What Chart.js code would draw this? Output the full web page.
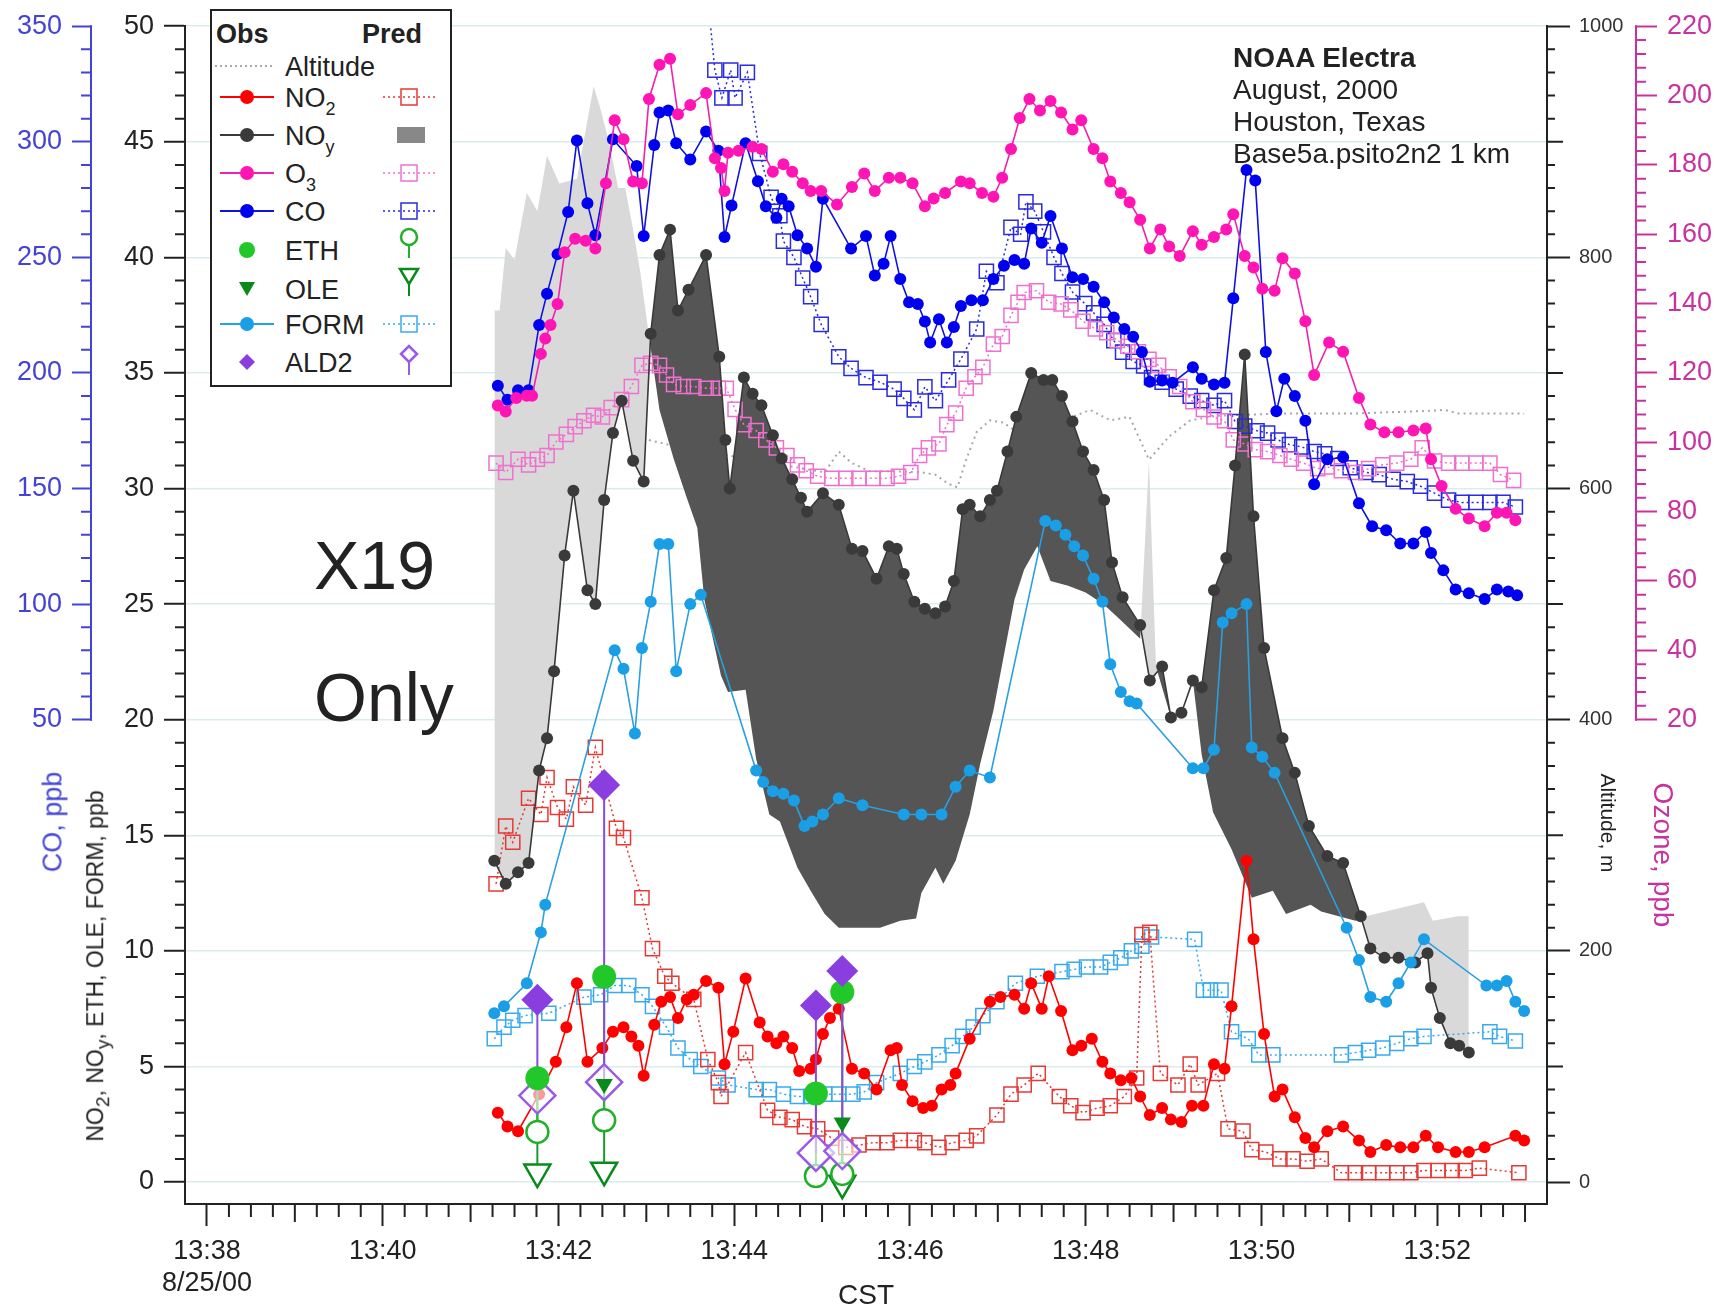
<!DOCTYPE html>
<html>
<head>
<meta charset="utf-8">
<title>NOAA Electra - X19 Only</title>
<script src="https://cdn.jsdelivr.net/npm/chart.js@4.4.1/dist/chart.umd.min.js"></script>
<style>
  body { margin: 0; background: #fff; overflow: hidden; }
  #wrap { position: relative; width: 1721px; height: 1313px; font-family: 'Liberation Sans', Arial, Helvetica, sans-serif; color: #222; }
  #wrap canvas { position: absolute; left: 0; top: 0; }
  .txt { position: absolute; white-space: nowrap; }
  .rotL { transform: translate(-50%, -50%) rotate(-90deg); }
  .rotR { transform: translate(-50%, -50%) rotate(90deg); }
  #legend { position: absolute; left: 210px; top: 9px; }
</style>
</head>
<body>
<div id="wrap">
  <canvas id="flightChart" width="1721" height="1313"></canvas>

  <svg id="legend" width="243" height="379" font-family="Liberation Sans, Arial, sans-serif" font-size="27" fill="#222">
    <rect x="1" y="1" width="240" height="376" fill="#fff" stroke="#222" stroke-width="2"/>
    <text x="6" y="34" font-weight="bold">Obs</text>
    <text x="152" y="34" font-weight="bold">Pred</text>

    <line x1="5" y1="57" x2="64" y2="57" stroke="#aaa" stroke-width="2" stroke-dasharray="2,3"/>
    <text x="75" y="67">Altitude</text>

    <line x1="10" y1="88" x2="64" y2="88" stroke="#ff0000" stroke-width="2"/>
    <circle cx="37" cy="88" r="7" fill="#ff0000"/>
    <text x="75" y="98">NO<tspan font-size="18" dy="8">2</tspan></text>
    <line x1="173" y1="88" x2="228" y2="88" stroke="#e53935" stroke-width="1.5" stroke-dasharray="2,3"/>
    <rect x="191" y="80" width="16" height="16" fill="none" stroke="#e53935" stroke-width="1.5"/>

    <line x1="10" y1="126" x2="64" y2="126" stroke="#3a3a3a" stroke-width="2"/>
    <circle cx="37" cy="126" r="7" fill="#3a3a3a"/>
    <text x="75" y="136">NO<tspan font-size="18" dy="8">y</tspan></text>
    <rect x="187" y="118" width="28" height="16" fill="#888"/>

    <line x1="10" y1="164" x2="64" y2="164" stroke="#f020b0" stroke-width="2"/>
    <circle cx="37" cy="164" r="7" fill="#ff14b4"/>
    <text x="75" y="174">O<tspan font-size="18" dy="8">3</tspan></text>
    <line x1="173" y1="164" x2="228" y2="164" stroke="#f070d0" stroke-width="1.5" stroke-dasharray="2,3"/>
    <rect x="191" y="156" width="16" height="16" fill="none" stroke="#f070d0" stroke-width="1.5"/>

    <line x1="10" y1="202" x2="64" y2="202" stroke="#1010e0" stroke-width="2"/>
    <circle cx="37" cy="202" r="7" fill="#0000f0"/>
    <text x="75" y="212">CO</text>
    <line x1="173" y1="202" x2="228" y2="202" stroke="#2a2ae0" stroke-width="1.5" stroke-dasharray="2,3"/>
    <rect x="191" y="194" width="16" height="16" fill="none" stroke="#2a2ae0" stroke-width="1.5"/>

    <circle cx="37" cy="241" r="8" fill="#22c82a"/>
    <text x="75" y="251">ETH</text>
    <circle cx="199" cy="228" r="8" fill="#fff" stroke="#22b02a" stroke-width="2.5"/>
    <line x1="199" y1="236" x2="199" y2="249" stroke="#22b02a" stroke-width="2"/>

    <polygon points="29,273 45,273 37,287" fill="#0a8a1a"/>
    <text x="75" y="290">OLE</text>
    <polygon points="190,260 208,260 199,275" fill="#fff" stroke="#0a8a1a" stroke-width="2.5"/>
    <line x1="199" y1="275" x2="199" y2="287" stroke="#0a8a1a" stroke-width="2"/>

    <line x1="10" y1="315" x2="64" y2="315" stroke="#2aa0e0" stroke-width="2"/>
    <circle cx="37" cy="315" r="7" fill="#1a9fe6"/>
    <text x="75" y="325">FORM</text>
    <line x1="173" y1="315" x2="228" y2="315" stroke="#3aaaee" stroke-width="1.5" stroke-dasharray="2,3"/>
    <rect x="191" y="307" width="16" height="16" fill="none" stroke="#3aaaee" stroke-width="1.5"/>

    <polygon points="29,353 37,345 45,353 37,361" fill="#8a3ee0"/>
    <text x="75" y="363">ALD2</text>
    <polygon points="191,345 199,337 207,345 199,353" fill="#fff" stroke="#9a5ae8" stroke-width="2.5"/>
    <line x1="199" y1="353" x2="199" y2="366" stroke="#9a5ae8" stroke-width="2"/>
  </svg>

  <div class="txt" style="left:1233px; top:42px; font-size:28px; line-height:32px;"><b>NOAA Electra</b><br>August, 2000<br>Houston, Texas<br>Base5a.psito2n2 1 km</div>
  <div class="txt" style="left:314px; top:531px; font-size:68px; line-height:68px;">X19</div>
  <div class="txt" style="left:314px; top:663px; font-size:68px; line-height:68px;">Only</div>

  <div class="txt rotL" style="left:53px; top:822px; font-size:27px; color:#4646d6;">CO, ppb</div>
  <div class="txt rotL" style="left:98px; top:966px; font-size:23px;">NO<sub>2</sub>, NO<sub>y</sub>, ETH, OLE, FORM, ppb</div>
  <div class="txt rotR" style="left:1608px; top:823px; font-size:21px;">Altitude, m</div>
  <div class="txt rotR" style="left:1663px; top:855px; font-size:28px; color:#c8329e;">Ozone, ppb</div>
</div>

<script>
// time axis is minutes after 13:38 CST (8/25/00)
const xTickVals = [0, 2, 4, 6, 8, 10, 12, 14];
const xTickLabels = ['13:38', '13:40', '13:42', '13:44', '13:46', '13:48', '13:50', '13:52'];
const no2Ticks = [0, 5, 10, 15, 20, 25, 30, 35, 40, 45, 50];
const coTicks = [50, 100, 150, 200, 250, 300, 350];
const altTicks = [0, 200, 400, 600, 800, 1000];
const o3Ticks = [20, 40, 60, 80, 100, 120, 140, 160, 180, 200, 220];

// CO observed (ppb)
const coObsT = [3.31,3.42,3.54,3.66,3.78,3.87,3.99,4.11,4.21,4.33,4.42,4.62,4.89,4.97,5.09,5.15,5.25,5.34,5.50,5.68,
  5.82,5.89,5.97,6.13,6.27,6.36,6.48,6.54,6.62,6.72,6.83,6.93,7.01,7.33,7.50,7.60,7.70,7.78,7.89,7.99,
  8.09,8.17,8.23,8.33,8.42,8.50,8.58,8.70,8.83,8.95,9.07,9.19,9.30,9.38,9.50,9.60,9.73,9.85,9.97,10.09,
  10.21,10.32,10.44,10.54,10.64,10.73,10.87,10.99,11.22,11.32,11.46,11.58,11.68,11.83,11.93,12.05,12.17,12.26,12.38,12.50,
  12.60,12.75,12.93,13.11,13.26,13.42,13.58,13.73,13.87,13.93,14.07,14.21,14.36,14.54,14.68,14.81,14.91];
const coObsV = [194.5,188.4,192.5,192.5,220.7,234.3,251.4,269.6,300.6,273.4,259.6,301.1,289.5,259.2,298.6,312.7,313.5,299.4,292.3,304.4,
  296.1,258.8,272.4,299.4,282.9,272.1,267.1,275.4,272.1,259.6,253.8,245.9,275.4,253.8,259.2,242.2,247.2,259.2,240.6,230.6,
  229.8,222.3,213.2,223.2,213.2,219.9,229.0,231.5,231.5,240.6,246.4,248.9,247.2,262.5,256.3,267.9,253.8,241.4,240.6,237.3,
  230.6,224.0,219.0,215.7,209.1,196.2,196.7,195.8,202.5,197.5,195.0,195.8,232.3,287.8,283.3,209.1,183.4,197.5,190.0,179.3,
  151.9,162.7,163.5,143.6,133.7,132.0,126.2,126.2,131.2,122.1,114.6,106.3,104.7,102.2,106.3,105.5,103.8];

// CO predicted (ppb)
const coPredT = [5.70,5.78,5.86,5.96,6.01,6.15,6.29,6.42,6.52,6.56,6.68,6.78,6.87,6.99,7.19,7.33,7.50,7.66,7.82,7.93,
  8.05,8.17,8.29,8.44,8.58,8.76,8.87,8.99,9.15,9.26,9.32,9.42,9.52,9.64,9.73,9.85,9.99,10.09,10.21,10.32,
  10.42,10.54,10.66,10.75,10.87,11.03,11.19,11.32,11.46,11.58,11.70,11.81,11.95,12.07,12.19,12.32,12.46,12.60,12.72,12.87,
  13.01,13.19,13.34,13.50,13.66,13.81,13.97,14.13,14.28,14.44,14.60,14.75,14.89];
const coPredV = [362,331,319,331,319,330,295,276,268,257,250,241,233,221,207,202,198,196,193,189,
  184,194,188,197,206,219,244,239,263,260,274,270,261,250,243,235,230,226,221,214,
  209,205,203,198,196,193,190,188,186,188,179,177,175,174,171,169,168,166,165,163,
  159,157,156,154,153,151,148,145,144,144,144,144,142];

// O3 observed (ppb)
const o3ObsT = [3.31,3.40,3.52,3.64,3.70,3.80,3.85,3.91,3.99,4.07,4.19,4.31,4.42,4.54,4.64,4.74,4.85,4.95,5.03,5.15,
  5.27,5.36,5.50,5.68,5.78,5.85,5.89,5.93,6.05,6.21,6.31,6.44,6.56,6.66,6.78,6.87,6.99,7.17,7.34,7.48,
  7.60,7.76,7.89,8.03,8.17,8.27,8.40,8.58,8.68,8.82,8.95,9.05,9.15,9.25,9.36,9.48,9.60,9.72,9.85,9.95,
  10.09,10.19,10.28,10.40,10.50,10.62,10.73,10.85,10.95,11.07,11.22,11.32,11.46,11.60,11.68,11.81,11.91,12.01,12.15,12.24,
  12.38,12.50,12.60,12.77,12.93,13.11,13.24,13.40,13.56,13.73,13.87,13.93,14.05,14.21,14.36,14.54,14.68,14.79,14.89];
const o3ObsV = [110.6,108.9,112.8,113.4,113.4,125.5,129.9,133.8,139.9,154.8,158.7,158.1,155.9,174.7,192.9,187.4,175.2,174.7,199.0,208.9,
  210.6,194.6,197.3,200.7,181.9,179.1,172.5,183.5,184.1,185.2,184.6,178.0,180.2,178.0,174.7,172.5,172.5,168.6,173.6,177.5,
  172.5,176.3,176.3,174.7,168.1,170.3,171.9,175.2,174.7,171.9,170.8,176.3,184.6,193.5,199.0,195.7,198.4,195.1,190.2,192.9,
  184.6,181.9,175.2,171.9,169.2,164.2,155.9,161.4,156.5,153.7,160.9,157.0,159.2,161.4,165.8,153.7,150.4,144.3,143.7,153.1,
  148.7,134.9,119.4,128.8,126.1,112.8,105.1,102.9,102.9,103.4,104.0,95.1,87.4,80.8,78.0,75.8,79.7,79.7,77.5];

// O3 predicted (ppb)
const o3PredT = [3.29,3.40,3.54,3.66,3.76,3.87,3.97,4.09,4.19,4.29,4.40,4.50,4.60,4.72,4.83,4.95,5.05,5.15,5.23,5.31,
  5.42,5.54,5.68,5.82,5.91,6.01,6.11,6.25,6.36,6.48,6.60,6.72,6.82,6.95,7.11,7.27,7.42,7.58,7.74,7.87,
  8.01,8.11,8.21,8.33,8.42,8.52,8.64,8.74,8.83,8.95,9.05,9.15,9.23,9.30,9.44,9.58,9.72,9.83,9.97,10.11,
  10.24,10.36,10.48,10.60,10.72,10.83,10.95,11.07,11.22,11.34,11.46,11.58,11.68,11.81,11.93,12.07,12.21,12.34,12.48,12.64,
  12.75,12.91,13.07,13.22,13.38,13.54,13.70,13.83,13.97,14.13,14.28,14.44,14.60,14.72,14.87];
const o3PredV = [94.0,91.3,95.1,93.5,95.1,96.2,100.1,102.3,104.5,106.2,107.8,107.3,110.0,112.3,116.1,122.2,122.8,122.2,119.4,116.7,
  116.1,116.1,115.6,115.6,115.6,109.5,105.1,103.4,100.7,98.4,96.2,93.5,91.8,90.2,89.6,89.6,89.6,89.6,89.6,90.2,
  91.3,96.2,98.4,99.5,105.1,108.4,115.6,118.9,121.6,128.3,130.5,136.6,140.4,143.2,143.7,140.4,139.9,138.2,134.9,132.7,
  131.6,129.4,127.7,126.1,123.9,122.2,118.9,116.1,111.7,109.5,107.3,106.2,100.7,99.5,97.9,97.3,96.2,95.1,94.0,92.4,
  92.9,91.8,91.3,92.4,93.5,94.0,95.1,98.4,94.6,94.0,94.0,94.0,94.0,90.7,89.0];

// NOy observed (ppb)
const noyObsT = [3.27,3.40,3.54,3.66,3.78,3.87,3.95,4.07,4.17,4.33,4.42,4.52,4.62,4.72,4.85,4.97,5.05,5.15,5.27,5.36,
  5.48,5.68,5.83,5.90,5.95,6.11,6.21,6.31,6.44,6.54,6.66,6.76,6.83,7.01,7.19,7.34,7.46,7.62,7.76,7.85,
  7.93,8.05,8.17,8.29,8.40,8.50,8.60,8.68,8.80,8.91,8.99,9.11,9.21,9.38,9.52,9.62,9.73,9.85,9.97,10.09,
  10.21,10.30,10.42,10.62,10.73,10.87,10.97,11.09,11.22,11.32,11.46,11.60,11.70,11.81,11.91,12.03,12.24,12.38,12.54,12.75,
  12.93,13.13,13.24,13.40,13.56,13.75,13.89,13.93,14.03,14.15,14.25,14.36];
const noyObsV = [13.9,12.9,13.4,13.8,17.8,19.2,22.1,27.1,29.9,25.6,25.0,29.5,32.4,33.8,31.2,30.3,36.7,40.1,41.2,37.7,
  38.6,40.1,35.7,32.1,30.0,34.8,34.1,33.6,32.3,31.3,30.4,29.6,29.0,29.8,29.3,27.4,27.3,26.1,27.5,27.4,
  26.3,25.1,24.8,24.6,24.9,26.0,29.1,29.3,28.8,29.5,29.9,31.6,33.1,35.0,34.7,34.7,34.0,32.9,31.6,30.8,
  29.5,26.8,25.3,24.1,21.7,22.3,20.1,20.3,21.7,21.4,25.6,27.0,31.0,35.8,28.8,23.1,19.2,17.7,15.4,14.1,
  13.8,11.5,10.1,9.7,9.7,9.5,9.9,8.4,7.1,6.0,5.9,5.6];

// NOy predicted (ppb) - shown only as the shaded band against the observations
const noyPredT = [3.27,3.33,3.40,3.50,3.64,3.76,3.87,4.01,4.21,4.40,4.48,4.58,4.68,4.76,4.85,4.93,5.03,5.15,5.31,5.46,
  5.58,5.66,5.85,5.93,6.13,6.25,6.40,6.52,6.72,6.87,7.03,7.19,7.42,7.66,7.89,8.07,8.13,8.29,8.38,8.52,
  8.68,8.80,8.95,9.11,9.19,9.30,9.45,9.60,9.80,10.00,10.20,10.40,10.62,10.72,10.80,10.97,11.09,11.22,11.32,11.45,
  11.66,11.89,12.13,12.28,12.56,12.68,13.07,13.19,13.85,13.95,14.24,14.48,14.71,14.99];
const noyPredV = [37.7,37.7,40.4,39.9,42.8,42.0,44.4,43.2,43.4,47.4,46.4,44.9,43.0,43.0,41.2,39.4,36.6,33.4,31.3,29.6,
  28.3,25.2,21.9,21.2,21.3,18.3,15.9,15.6,13.6,12.6,11.6,11.0,11.0,11.0,11.3,11.4,12.5,13.6,12.9,13.9,
  15.9,18.1,20.4,23.6,25.2,26.5,27.5,26.0,25.8,25.5,25.0,24.3,23.5,31.2,22.3,20.1,20.3,21.7,18.5,16.0,
  14.4,12.3,12.6,11.6,12.0,11.7,11.3,11.5,12.1,11.3,11.5,11.5,11.1,10.3];

// NO2 observed (ppb)
const no2ObsT = [3.31,3.42,3.54,3.78,3.97,4.09,4.21,4.33,4.50,4.62,4.74,4.83,4.91,4.97,5.09,5.17,5.27,5.36,5.46,5.54,
  5.68,5.82,5.89,5.99,6.13,6.29,6.38,6.48,6.56,6.66,6.74,6.87,6.93,7.01,7.09,7.19,7.34,7.48,7.62,7.78,
  7.85,7.91,8.03,8.15,8.25,8.36,8.46,8.52,8.68,8.91,9.03,9.19,9.30,9.38,9.50,9.58,9.72,9.85,9.95,10.07,
  10.19,10.28,10.40,10.52,10.62,10.73,10.87,10.97,11.09,11.21,11.34,11.46,11.58,11.66,11.83,11.91,12.03,12.15,12.24,12.38,
  12.50,12.60,12.75,12.93,13.11,13.24,13.42,13.58,13.73,13.87,14.01,14.21,14.36,14.54,14.89,14.99];
const no2ObsV = [3.0,2.4,2.2,3.8,5.2,6.7,8.6,5.2,5.8,6.5,6.7,6.3,5.9,4.6,6.8,7.8,8.0,7.1,7.9,8.1,
  8.7,8.4,5.1,6.5,8.8,6.9,6.3,6.0,6.3,5.8,4.8,4.9,5.3,6.4,7.1,7.5,4.9,4.7,4.0,5.7,
  5.8,4.2,3.5,3.2,3.3,4.0,4.2,4.7,6.2,7.8,8.0,8.1,7.5,8.6,7.5,8.9,7.4,5.7,5.9,6.2,
  5.2,4.7,4.4,4.5,3.7,2.9,3.2,2.7,2.6,3.3,3.3,5.1,4.9,7.6,13.9,10.5,6.4,3.7,4.0,2.8,
  1.9,1.5,2.2,2.4,1.8,1.3,1.6,1.5,1.5,2.0,1.5,1.3,1.3,1.5,2.0,1.8];

// NO2 predicted (ppb)
const no2PredT = [3.29,3.40,3.48,3.66,3.80,3.87,3.99,4.09,4.17,4.31,4.42,4.66,4.74,4.95,5.07,5.21,5.29,5.54,5.70,5.82,
  5.85,6.13,6.38,6.52,6.66,6.80,6.95,7.11,7.27,7.42,7.58,7.74,7.89,8.05,8.17,8.33,8.48,8.64,8.76,8.99,
  9.15,9.30,9.46,9.70,9.83,9.97,10.13,10.28,10.44,10.58,10.64,10.73,10.85,11.05,11.19,11.28,11.50,11.62,11.79,11.89,
  12.05,12.21,12.36,12.52,12.68,12.91,13.07,13.22,13.38,13.54,13.70,13.85,14.01,14.17,14.32,14.48,14.93];
const no2PredV = [12.9,15.4,14.7,16.6,15.9,17.5,16.2,15.7,17.1,16.3,18.8,15.3,14.9,12.3,10.1,8.9,8.6,7.9,5.3,4.3,
  3.7,5.6,3.1,2.8,2.7,2.4,2.3,1.9,1.5,1.6,1.7,1.7,1.8,1.8,1.7,1.5,1.7,1.8,2.0,2.9,
  3.8,4.2,4.7,3.7,3.3,3.0,3.2,3.3,3.7,4.5,10.7,10.8,4.7,4.2,5.1,4.2,4.7,2.3,2.2,1.4,
  1.3,1.0,1.0,0.9,1.0,0.4,0.4,0.4,0.4,0.4,0.4,0.5,0.5,0.5,0.5,0.6,0.4];

// FORM observed (ppb)
const formObsT = [3.27,3.38,3.64,3.80,3.85,4.64,4.74,4.87,4.95,5.05,5.15,5.25,5.34,5.50,5.62,6.25,6.33,6.44,6.56,6.68,
  6.80,6.89,7.01,7.19,7.46,7.93,8.13,8.36,8.52,8.68,8.91,9.54,9.66,9.77,9.87,9.97,10.09,10.19,10.28,10.40,
  10.50,10.58,11.22,11.34,11.46,11.56,11.66,11.83,11.89,12.01,12.15,12.97,13.11,13.24,13.42,13.56,13.70,13.85,14.56,14.68,
  14.79,14.89,14.99];
const formObsV = [7.3,7.6,8.6,10.8,12.0,23.0,22.2,19.4,23.1,25.1,27.6,27.6,22.1,25.0,25.4,17.8,17.3,16.9,16.8,16.5,
  15.4,15.6,15.9,16.6,16.3,15.9,15.9,15.9,17.1,17.8,17.5,28.6,28.4,28.0,27.5,27.1,26.1,25.1,22.4,21.2,
  20.8,20.7,17.9,17.9,18.7,24.2,24.6,25.0,18.8,18.4,17.7,11.0,9.6,8.0,7.8,8.6,9.5,10.5,8.5,8.5,
  8.7,7.8,7.4];

// FORM predicted (ppb)
const formPredT = [3.27,3.38,3.48,3.62,3.89,4.29,4.48,4.64,4.80,4.95,5.07,5.23,5.36,5.50,5.62,5.82,5.93,6.25,6.40,6.56,
  6.72,6.87,7.03,7.19,7.35,7.48,7.62,7.89,8.05,8.17,8.33,8.48,8.60,8.72,8.83,8.99,9.20,9.45,9.73,9.87,
  10.01,10.17,10.28,10.40,10.52,10.64,10.75,11.24,11.34,11.42,11.54,11.66,11.85,11.97,12.13,12.91,13.07,13.22,13.38,13.54,
  13.70,13.85,14.60,14.71,14.89];
const formPredV = [6.2,6.7,7.0,7.2,7.3,8.0,8.1,8.5,8.5,8.1,7.6,6.7,5.8,5.3,5.0,4.5,4.2,4.0,4.0,3.8,
  3.7,3.7,3.8,3.8,3.8,3.9,4.3,4.7,5.0,5.2,5.5,5.9,6.3,6.7,7.2,7.8,8.6,8.9,9.1,9.2,
  9.3,9.3,9.5,9.7,10.0,10.2,10.6,10.5,8.3,8.3,8.3,6.5,6.2,5.5,5.5,5.5,5.6,5.7,5.8,6.0,
  6.2,6.3,6.5,6.3,6.1];

// aircraft altitude (m)
const altT = [5.03,5.19,5.31,7.03,7.19,7.34,7.54,7.82,8.13,8.29,8.44,8.54,8.64,8.76,8.91,9.07,9.15,9.62,9.85,10.05,
  10.28,10.50,10.66,10.72,10.95,11.19,11.50,12.28,13.07,13.85,14.09,14.24,14.99];
const altV = [642,639,637,614,632,622,615,615,614,612,604,601,625,649,659,657,652,645,662,668,
  659,662,635,625,645,659,663,665,665,667,668,665,665];

// canister samples: ETH, OLE, ALD2 (obs vs pred)
const grpT = [3.76, 4.52, 6.93, 7.23];
const ald2Obs = [7.89, 17.17, 7.64, 9.13];
const ald2Pred = [3.74, 4.32, 1.26, 1.34];
const ethObs = [4.49, 8.88, 3.83, 8.22];
const ethPred = [2.17, 2.67, 0.26, 0.35];
const oleObs = [4.49, 4.24, null, 2.58];
const olePred = [0.43, 0.51, null, -0.05];

// colours
const coAxisColor = '#4444d4';
const o3AxisColor = '#c8329e';
const gridColor = 'rgba(190, 220, 225, 0.55)';

const pts = (ts, vs) => ts.map((t, i) => ({ x: t, y: vs[i] }));
const links = (ts, a, b) => {
  const out = [];
  ts.forEach((t, i) => {
    if (a[i] === null || b[i] === null) return;
    out.push({ x: t, y: a[i] }, { x: t, y: b[i] }, { x: t, y: null });
  });
  return out;
};
const range = (from, to, step) => {
  const r = [];
  for (let v = from; v <= to + 1e-9; v += step) r.push(Math.round(v * 100) / 100);
  return r;
};

// minor tick marks
const xMinor = range(0, 15, 0.25).filter(v => !(Number.isInteger(v) && v % 2 === 0));
const no2Minor = range(1, 49, 1).filter(v => v % 5 !== 0);
const coMinor = range(60, 340, 10).filter(v => v % 50 !== 0);
const altMinor = range(20, 980, 20).filter(v => v % 200 !== 0);
const o3Minor = range(24, 216, 4).filter(v => v % 20 !== 0);

const axisExtras = {
  id: 'axisExtras',
  afterDraw(chart) {
    const { ctx } = chart;
    const { x, yNO2, yCO, yAlt, yO3 } = chart.scales;
    ctx.save();
    ctx.lineWidth = 2;

    // CO and ozone axis lines only cover their labelled range
    ctx.strokeStyle = coAxisColor;
    ctx.beginPath();
    ctx.moveTo(yCO.right - 1, yCO.getPixelForValue(350) - 1);
    ctx.lineTo(yCO.right - 1, yCO.getPixelForValue(50) + 1);
    ctx.stroke();
    ctx.strokeStyle = o3AxisColor;
    ctx.beginPath();
    ctx.moveTo(yO3.left + 1, yO3.getPixelForValue(220) - 1);
    ctx.lineTo(yO3.left + 1, yO3.getPixelForValue(20) + 1);
    ctx.stroke();

    ctx.strokeStyle = '#222';
    ctx.beginPath();
    xMinor.forEach(v => {
      const px = x.getPixelForValue(v);
      ctx.moveTo(px, x.top);
      ctx.lineTo(px, x.top + (Number.isInteger(v) ? 18 : 13));
    });
    no2Minor.forEach(v => {
      const py = yNO2.getPixelForValue(v);
      ctx.moveTo(yNO2.right, py);
      ctx.lineTo(yNO2.right - 10, py);
    });
    altMinor.forEach(v => {
      const py = yAlt.getPixelForValue(v);
      ctx.moveTo(yAlt.left, py);
      ctx.lineTo(yAlt.left + (v % 100 === 0 ? 16 : 8), py);
    });
    ctx.stroke();

    ctx.strokeStyle = coAxisColor;
    ctx.beginPath();
    coMinor.forEach(v => {
      const py = yCO.getPixelForValue(v);
      ctx.moveTo(yCO.right, py);
      ctx.lineTo(yCO.right - 11, py);
    });
    ctx.stroke();

    ctx.strokeStyle = o3AxisColor;
    ctx.beginPath();
    o3Minor.forEach(v => {
      const py = yO3.getPixelForValue(v);
      ctx.moveTo(yO3.left, py);
      ctx.lineTo(yO3.left + 11, py);
    });
    ctx.stroke();
    ctx.restore();
  }
};

Chart.defaults.font.family = "'Liberation Sans', Arial, Helvetica, sans-serif";

const obsLine = (label, data, axis, color, lineColor, order) => ({
  label, data, yAxisID: axis, order,
  borderColor: lineColor, borderWidth: 1.6,
  pointRadius: 6, pointBorderWidth: 0, pointBackgroundColor: color,
  fill: false
});
const predLine = (label, data, axis, color, order) => ({
  label, data, yAxisID: axis, order,
  borderColor: color, borderWidth: 1.5, borderDash: [2, 3],
  pointStyle: 'rect', pointRadius: 10, pointBorderWidth: 1.5,
  pointBorderColor: color, pointBackgroundColor: 'rgba(255,255,255,0)',
  fill: false
});

const ctx = document.getElementById('flightChart').getContext('2d');
const chart = new Chart(ctx, {
  type: 'line',
  data: {
    datasets: [
      { label: 'Altitude', data: pts(altT, altV), yAxisID: 'yAlt', order: 30,
        borderColor: '#a8a8a8', borderWidth: 2, borderDash: [2, 4], pointRadius: 0, fill: false },
      obsLine('NOy', pts(noyObsT, noyObsV), 'yNO2', '#3a3a3a', '#3a3a3a', 8),
      { label: 'NOy pred', data: pts(noyPredT, noyPredV), yAxisID: 'yNO2', order: 25,
        borderColor: 'rgba(0,0,0,0)', borderWidth: 0, pointRadius: 0,
        fill: { target: 1, above: '#d9d9d9', below: '#555555' } },
      predLine('O3 pred', pts(o3PredT, o3PredV), 'yO3', '#f070d0', 20),
      predLine('CO pred', pts(coPredT, coPredV), 'yCO', '#2a2ae0', 20),
      predLine('NO2 pred', pts(no2PredT, no2PredV), 'yNO2', '#e53935', 20),
      predLine('FORM pred', pts(formPredT, formPredV), 'yNO2', '#3aaaee', 20),
      obsLine('FORM', pts(formObsT, formObsV), 'yNO2', '#1a9fe6', '#2aa0e0', 7),
      obsLine('NO2', pts(no2ObsT, no2ObsV), 'yNO2', '#ff0000', '#ff0000', 5),
      obsLine('O3', pts(o3ObsT, o3ObsV), 'yO3', '#ff14b4', '#f020b0', 6),
      obsLine('CO', pts(coObsT, coObsV), 'yCO', '#0000f0', '#1010e0', 6),
      { label: 'ALD2 link', data: links(grpT, ald2Obs, ald2Pred), yAxisID: 'yNO2', order: 4,
        borderColor: '#8a4ae0', borderWidth: 2, pointRadius: 0, spanGaps: false, fill: false },
      { label: 'ETH link', data: links(grpT, ethObs, ethPred), yAxisID: 'yNO2', order: 4,
        borderColor: '#2cb830', borderWidth: 2, pointRadius: 0, spanGaps: false, fill: false },
      { label: 'OLE link', data: links(grpT, oleObs, olePred), yAxisID: 'yNO2', order: 4,
        borderColor: '#1a9a2a', borderWidth: 2, pointRadius: 0, spanGaps: false, fill: false },
      { label: 'ALD2 pred', data: pts(grpT, ald2Pred), yAxisID: 'yNO2', order: 3, showLine: false,
        pointStyle: 'rectRot', pointRadius: 18, pointBorderWidth: 2.5,
        pointBorderColor: '#9a5ae8', pointBackgroundColor: 'rgba(255,255,255,0.6)' },
      { label: 'ETH pred', data: pts(grpT, ethPred), yAxisID: 'yNO2', order: 3, showLine: false,
        pointStyle: 'circle', pointRadius: 11, pointBorderWidth: 2.5,
        pointBorderColor: '#22b02a', pointBackgroundColor: '#fff' },
      { label: 'OLE pred', data: pts(grpT, olePred), yAxisID: 'yNO2', order: 3, showLine: false,
        pointStyle: 'triangle', rotation: 180, pointRadius: 15, pointBorderWidth: 2.5,
        pointBorderColor: '#0a8a1a', pointBackgroundColor: '#fff' },
      { label: 'OLE', data: pts(grpT, oleObs), yAxisID: 'yNO2', order: 2.5, showLine: false,
        pointStyle: 'triangle', rotation: 180, pointRadius: 10, pointBorderWidth: 0, pointBackgroundColor: '#0a8a1a' },
      { label: 'ALD2', data: pts(grpT, ald2Obs), yAxisID: 'yNO2', order: 2, showLine: false,
        pointStyle: 'rectRot', pointRadius: 16, pointBorderWidth: 0, pointBackgroundColor: '#8a3ee0' },
      { label: 'ETH', data: pts(grpT, ethObs), yAxisID: 'yNO2', order: 2, showLine: false,
        pointStyle: 'circle', pointRadius: 12, pointBorderWidth: 0, pointBackgroundColor: '#22c82a' }
    ]
  },
  options: {
    responsive: false,
    animation: false,
    layout: { padding: { top: 26, left: 0, right: 0, bottom: 0 } },
    plugins: {
      legend: { display: false },
      tooltip: { enabled: false }
    },
    scales: {
      x: {
        type: 'linear', position: 'bottom', min: -0.25, max: 15.25,
        afterBuildTicks: s => { s.ticks = xTickVals.map(v => ({ value: v })); },
        afterFit: s => { s.height = 109; },
        ticks: {
          autoSkip: false, maxRotation: 0, minRotation: 0, color: '#222', padding: 9,
          font: { size: 27 },
          callback: (v, i) => i === 0 ? [xTickLabels[0], '8/25/00'] : xTickLabels[i]
        },
        grid: { drawOnChartArea: false, tickLength: 22, tickColor: '#222', tickWidth: 2 },
        border: { color: '#222', width: 2 },
        title: { display: true, text: 'CST', color: '#222', font: { size: 28 }, padding: { top: 0, bottom: 0 } }
      },
      yCO: {
        type: 'linear', position: 'left', weight: 1, min: -159.5, max: 350,
        afterBuildTicks: s => { s.ticks = coTicks.map(v => ({ value: v })); },
        afterFit: s => { s.width = 92; },
        ticks: { color: coAxisColor, font: { size: 27 }, padding: 10, callback: v => String(v) },
        grid: { drawOnChartArea: false, tickLength: 20, tickColor: coAxisColor, tickWidth: 2 },
        border: { display: false }
      },
      yNO2: {
        type: 'linear', position: 'left', weight: 0, min: -0.95, max: 50,
        afterBuildTicks: s => { s.ticks = no2Ticks.map(v => ({ value: v })); },
        afterFit: s => { s.width = 93; },
        ticks: { color: '#222', font: { size: 27 }, padding: 10, callback: v => String(v) },
        grid: { color: gridColor, lineWidth: 1.5, tickLength: 21, tickColor: '#222', tickWidth: 2 },
        border: { color: '#222', width: 2 }
      },
      yAlt: {
        type: 'linear', position: 'right', weight: 0, min: -19, max: 1000,
        afterBuildTicks: s => { s.ticks = altTicks.map(v => ({ value: v })); },
        afterFit: s => { s.width = 88; },
        ticks: { color: '#333', font: { size: 20 }, padding: 9, callback: v => String(v) },
        grid: { drawOnChartArea: false, tickLength: 23, tickColor: '#222', tickWidth: 2 },
        border: { color: '#222', width: 2 }
      },
      yO3: {
        type: 'linear', position: 'right', weight: 1, min: -119.67, max: 220,
        afterBuildTicks: s => { s.ticks = o3Ticks.map(v => ({ value: v })); },
        afterFit: s => { s.width = 86; },
        ticks: { color: o3AxisColor, font: { size: 27 }, padding: 10, callback: v => String(v) },
        grid: { drawOnChartArea: false, tickLength: 22, tickColor: o3AxisColor, tickWidth: 2 },
        border: { display: false }
      }
    }
  },
  plugins: [axisExtras]
});
</script>
</body>
</html>
